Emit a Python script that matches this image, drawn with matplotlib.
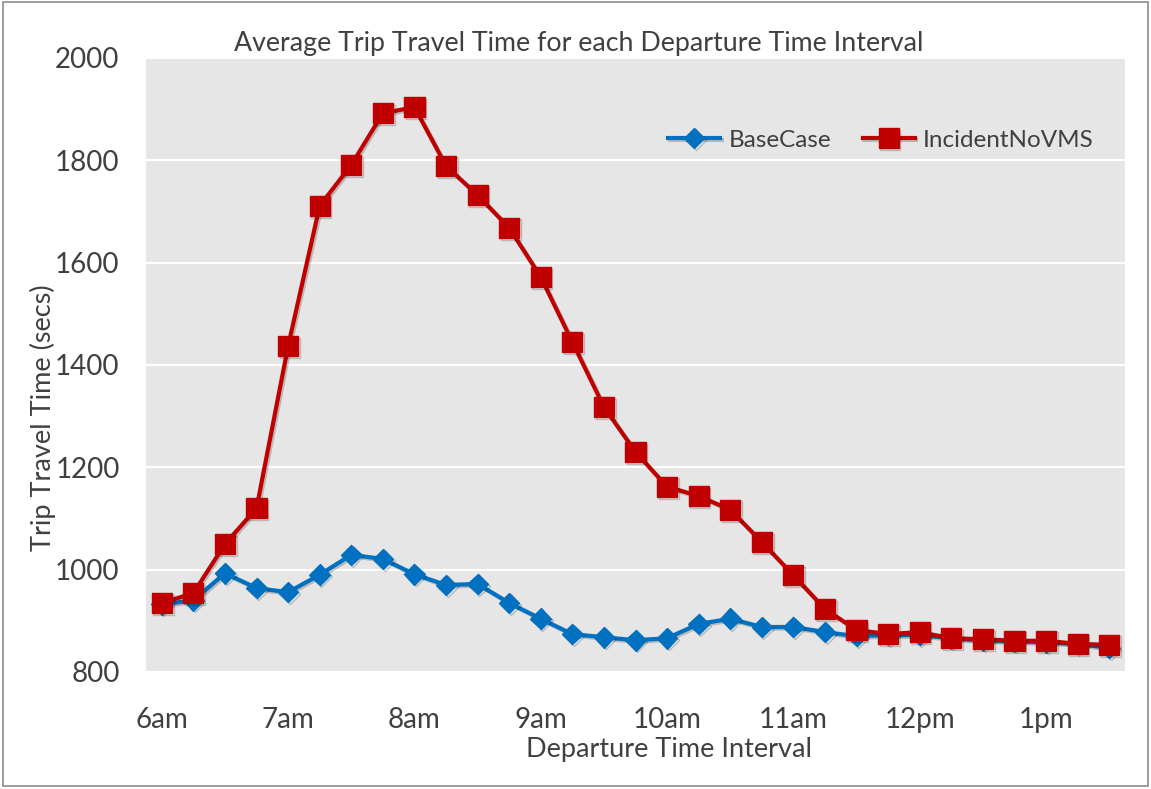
import matplotlib
matplotlib.use('Agg')
import matplotlib.pyplot as plt
import matplotlib.patheffects as pe
from matplotlib.patches import Rectangle

# travel times per 15-minute departure interval, 6:00am to 1:30pm
intervals = list(range(31))
base_case = [932, 940, 993, 964, 956, 990, 1029, 1021, 991, 970,
             972, 935, 904, 874, 868, 862, 866, 894, 904, 888,
             888, 878, 870, 872, 872, 866, 862, 860, 858, 855, 847]
incident_no_vms = [935, 954, 1050, 1120, 1437, 1711, 1791, 1892, 1904, 1789,
                   1732, 1668, 1572, 1445, 1318, 1230, 1162, 1144, 1117, 1054,
                   989, 923, 882, 874, 878, 866, 864, 861, 861, 855, 853]
hour_ticks = [0, 4, 8, 12, 16, 20, 24, 28]
hour_labels = ['6am', '7am', '8am', '9am', '10am', '11am', '12pm', '1pm']
y_ticks = [800, 1000, 1200, 1400, 1600, 1800, 2000]

plt.rcParams['font.family'] = ['Lato', 'DejaVu Sans']
text_color = '#404040'
W, H = 1151, 789

fig = plt.figure(figsize=(W / 100, H / 100), dpi=100)
ax = fig.add_axes([146 / W, 1 - 672 / H, (1125 - 146) / W, (672 - 58) / H])
ax.set_facecolor('#e6e6e6')

shadow = [pe.SimpleLineShadow(offset=(1.2, -1.2), shadow_color='black', alpha=0.2), pe.Normal()]

ax.plot(intervals, base_case, color='#0070c0', lw=3, marker='D', ms=10.5,
        label='BaseCase', path_effects=shadow, zorder=3)
ax.plot(intervals, incident_no_vms, color='#c00000', lw=3, marker='s', ms=14.5,
        label='IncidentNoVMS', path_effects=shadow, zorder=4)

ax.set_xlim(-0.5, 30.5)
ax.set_ylim(800, 2000)
ax.set_xticks(hour_ticks)
ax.set_xticklabels(hour_labels)
ax.set_yticks(y_ticks)
ax.grid(axis='y', color='white', lw=1.5)
ax.set_axisbelow(True)
for s in ax.spines.values():
    s.set_visible(False)
ax.tick_params(axis='both', length=0, labelsize=20, colors=text_color)
ax.tick_params(axis='x', pad=25)
ax.tick_params(axis='y', pad=19)

# axis titles and chart title
fig.text(43 / W, 1 - 418 / H, 'Trip Travel Time (secs)', rotation=90,
         ha='center', va='center', fontsize=19.5, color=text_color)
fig.text(669 / W, 1 - 750 / H, 'Departure Time Interval',
         ha='center', va='center', fontsize=19.5, color=text_color)
fig.text(579 / W, 1 - 44 / H, 'Average Trip Travel Time for each Departure Time Interval',
         ha='center', va='center', fontsize=19.3, color=text_color)

ax.legend(loc='center left', bbox_to_anchor=(668 / W, 1 - 140 / H),
          bbox_transform=fig.transFigure, ncol=2, frameon=False, fontsize=17.5,
          handlelength=2.15, handletextpad=0.33, columnspacing=1.3, borderpad=0,
          borderaxespad=0, labelcolor=text_color)

# outer chart border
fig.patches.append(Rectangle((3 / W, 3 / H), 1145 / W, 784 / H,
                             transform=fig.transFigure, fill=False,
                             edgecolor='#8c8c8c', lw=1.2))

fig.savefig('out.png', dpi=100)
